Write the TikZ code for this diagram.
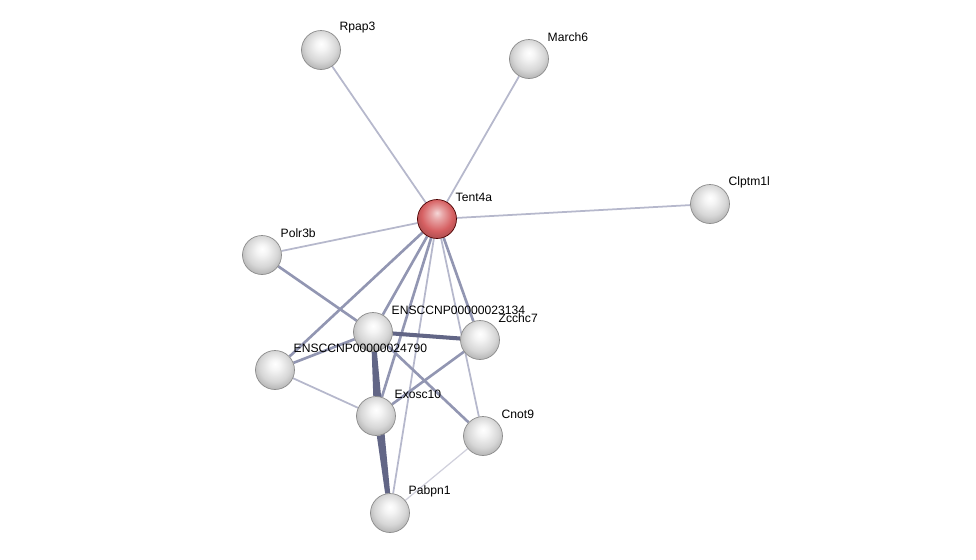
\documentclass[tikz,border=0pt]{standalone}
\usepackage{fontspec}
\setmainfont{Liberation Sans}
\usetikzlibrary{backgrounds}

\definecolor{edgefaint}{RGB}{208,208,220}
\definecolor{edgelight}{RGB}{182,184,204}
\definecolor{edgemid}{RGB}{146,150,178}
\definecolor{edgedark}{RGB}{98,102,134}
\definecolor{protred}{RGB}{214,96,98}

% glossy balls, lighter than the stock ball shading
\pgfdeclareradialshading{greyball}{\pgfqpoint{0bp}{8bp}}{%
  color(0bp)=(white); color(7bp)=(white!96!black); color(20bp)=(white!84!black);
  color(29bp)=(white!70!black); color(50bp)=(white!55!black)}
\pgfdeclareradialshading{redball}{\pgfqpoint{0bp}{8bp}}{%
  color(0bp)=(white!75!protred); color(7bp)=(white!45!protred); color(20bp)=(protred);
  color(29bp)=(protred!80!black); color(50bp)=(protred!55!black)}

\tikzset{
  protein/.style={circle, minimum size=0.78cm, inner sep=0pt, shading=greyball,
    draw=black!45, line width=0.4pt},
  query/.style={protein, shading=redball, draw=red!30!black},
  lbl/.style={font=\fontsize{6.9}{8}\selectfont, inner sep=0pt, anchor=west,
    xshift=-0.03cm, yshift=0.44cm},
  faint/.style={draw=edgefaint, line width=0.7pt},
  weak/.style={draw=edgelight, line width=1.0pt},
  medium/.style={draw=edgemid, line width=1.5pt},
  strong/.style={draw=edgedark, line width=2.3pt}
}

\begin{document}
\begin{tikzpicture}[x=0.02cm, y=-0.02cm]
        \useasboundingbox (0,0) rectangle (976,559);

        % Proteins
        \node[query] (tent) at (437,219) {};
        \node[protein] (rpap) at (321,50) {};
        \node[protein] (march) at (529,59) {};
        \node[protein] (clptm) at (710,204) {};
        \node[protein] (polr) at (262,255) {};
        \node[protein] (ensb) at (373,332) {};
        \node[protein] (zcchc) at (480,340) {};
        \node[protein] (ensa) at (275,370) {};
        \node[protein] (exosc) at (376,416) {};
        \node[protein] (cnot) at (483,436) {};
        \node[protein] (pabpn) at (390,513) {};

        % Protein names
        \node[lbl] at (tent.east) {Tent4a};
        \node[lbl] at (rpap.east) {Rpap3};
        \node[lbl] at (march.east) {March6};
        \node[lbl] at (clptm.east) {Clptm1l};
        \node[lbl] at (polr.east) {Polr3b};
        \node[lbl] at (ensb.east) {ENSCCNP00000023134};
        \node[lbl] at (zcchc.east) {Zcchc7};
        \node[lbl] at (ensa.east) {ENSCCNP00000024790};
        \node[lbl] at (exosc.east) {Exosc10};
        \node[lbl] at (cnot.east) {Cnot9};
        \node[lbl] at (pabpn.east) {Pabpn1};

        % Interactions behind the balls
        \begin{scope}[on background layer]
            \draw[weak] (tent) -- (rpap);
            \draw[weak] (tent) -- (march);
            \draw[weak] (tent) -- (clptm);
            \draw[weak] (tent) -- (polr);
            \draw[weak] (tent) -- (pabpn);
            \draw[weak] (tent) -- (cnot);
            \draw[medium] (tent) -- (ensa);
            \draw[medium] (tent) -- (ensb);
            \draw[medium] (tent) -- (exosc);
            \draw[medium] (tent) -- (zcchc);
            \draw[medium] (polr) -- (ensb);
            \draw[medium] (ensa) -- (ensb);
            \draw[weak] (ensa) -- (exosc);
            \draw[medium] (ensb) -- (cnot);
            \draw[medium] (zcchc) -- (exosc);
            \draw[strong] (ensb) -- (zcchc);
            \draw[strong] (ensb) -- (exosc);
            \draw[strong] (ensb) -- (pabpn);
            \draw[strong] (exosc) -- (pabpn);
            \draw[faint] (cnot) -- (pabpn);
        \end{scope}
    \end{tikzpicture}
\end{document}
